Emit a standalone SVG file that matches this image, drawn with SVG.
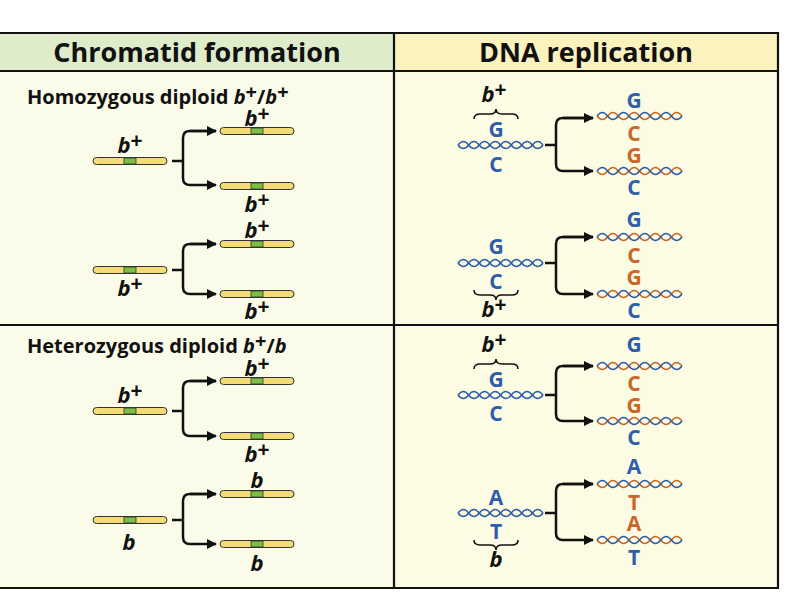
<svg xmlns="http://www.w3.org/2000/svg" xmlns:xlink="http://www.w3.org/1999/xlink" width="806" height="596" viewBox="0 0 806 596">
<style>
.hd{font-family:"Open Sans","Liberation Sans",sans-serif;font-weight:bold;font-size:27px;fill:#111}
.rt{font-family:"Open Sans","Liberation Sans",sans-serif;font-weight:bold;font-size:20px;fill:#111}
.b{font-family:"Open Sans","Liberation Sans",sans-serif;font-weight:bold;font-style:italic;font-size:22px;fill:#111;text-anchor:middle}
.sup{font-style:normal;font-size:21px}
.bl{font-family:"Open Sans","Liberation Sans",sans-serif;font-weight:bold;font-size:21px;fill:#2f5ea8;text-anchor:middle}
.or{font-family:"Open Sans","Liberation Sans",sans-serif;font-weight:bold;font-size:21px;fill:#c8672b;text-anchor:middle}
.con{fill:none;stroke:#111;stroke-width:2.5}
.br{fill:none;stroke:#111;stroke-width:1.6}
.s{fill:none;stroke-width:1.5}
</style>
<defs>
<marker id="ah" viewBox="0 0 10 10" refX="9" refY="5" markerWidth="4" markerHeight="4" orient="auto" markerUnits="strokeWidth"><path d="M0 0L10 5L0 10z" fill="#111"/></marker>
<path id="w1" d="M0 0q5.3 -7 10.625 0t10.625 0t10.625 0t10.625 0t10.625 0t10.625 0t10.625 0t10.625 0"/>
<path id="w2" d="M0 0q5.3 7 10.625 0t10.625 0t10.625 0t10.625 0t10.625 0t10.625 0t10.625 0t10.625 0"/>
<g id="hb"><use xlink:href="#w1" class="s" stroke="#2f5ea8"/><use xlink:href="#w2" class="s" stroke="#2f5ea8"/></g>
<g id="ho"><use xlink:href="#w2" class="s" stroke="#c8672b"/><use xlink:href="#w1" class="s" stroke="#2f5ea8"/></g>
<g id="chr"><rect x="0" y="-3.5" width="74" height="7" rx="3.5" fill="#f3dc76" stroke="#333" stroke-width="1"/><rect x="31" y="-3" width="12" height="6" fill="#7cc043" stroke="#333" stroke-width="0.8"/></g>
<path id="braceU" d="M-22 5q0 -5 6 -5h10q6 0 6 -5q0 5 6 5h10q6 0 6 5"/>
<path id="braceD" d="M-22 -5q0 5 6 5h10q6 0 6 5q0 -5 6 -5h10q6 0 6 -5"/>
</defs>
<g id="table">
<rect x="0" y="33" width="394" height="38" fill="#deecc9"/>
<rect x="394" y="33" width="384" height="38" fill="#fbf2bd"/>
<rect x="0" y="71" width="394" height="517" fill="#fbfbe9"/>
<rect x="394" y="71" width="384" height="517" fill="#fcfbe4"/>
<path d="M0 33H778V588H0M0 71H778M0 325H778M394 33V588" fill="none" stroke="#111" stroke-width="2.2"/>
<text class="hd" x="197" y="62" text-anchor="middle">Chromatid formation</text>
<text class="hd" x="586" y="62" text-anchor="middle">DNA replication</text>
<text class="rt" x="27" y="104">Homozygous diploid <tspan font-style="italic">b</tspan><tspan dy="-5">+</tspan><tspan dy="5">/</tspan><tspan font-style="italic">b</tspan><tspan dy="-5">+</tspan></text>
<text class="rt" x="27" y="353">Heterozygous diploid <tspan font-style="italic">b</tspan><tspan dy="-5">+</tspan><tspan dy="5">/</tspan><tspan font-style="italic">b</tspan></text>
</g>
<g id="connectors">
<path class="con" d="M172 161H183M216 131H190Q183 131 183 138V178Q183 185 190 185H216" marker-end="url(#ah)"/>
<path class="con" d="M190 131H216" marker-end="url(#ah)"/>
<path class="con" d="M172 270H183M216 244H190Q183 244 183 251V287Q183 294 190 294H216" marker-end="url(#ah)"/>
<path class="con" d="M190 244H216" marker-end="url(#ah)"/>
<path class="con" d="M172 411H183M216 381H190Q183 381 183 388V429Q183 436 190 436H216" marker-end="url(#ah)"/>
<path class="con" d="M190 381H216" marker-end="url(#ah)"/>
<path class="con" d="M172 520H183M216 494H190Q183 494 183 501V537Q183 544 190 544H216" marker-end="url(#ah)"/>
<path class="con" d="M190 494H216" marker-end="url(#ah)"/>
<path class="con" d="M545 145H556M593 118H563Q556 118 556 125V164Q556 171 563 171H593" marker-end="url(#ah)"/>
<path class="con" d="M563 118H593" marker-end="url(#ah)"/>
<path class="con" d="M545 263H556M593 237H563Q556 237 556 244V287Q556 294 563 294H593" marker-end="url(#ah)"/>
<path class="con" d="M563 237H593" marker-end="url(#ah)"/>
<path class="con" d="M545 395H556M593 366H563Q556 366 556 373V414Q556 421 563 421H593" marker-end="url(#ah)"/>
<path class="con" d="M563 366H593" marker-end="url(#ah)"/>
<path class="con" d="M545 513H556M593 484H563Q556 484 556 491V533Q556 540 563 540H593" marker-end="url(#ah)"/>
<path class="con" d="M563 484H593" marker-end="url(#ah)"/>
</g>
<g id="chromatids-homo">
<use xlink:href="#chr" x="93" y="161"/><text class="b" x="130" y="153">b<tspan class="sup" dy="-5">+</tspan></text>
<use xlink:href="#chr" x="220" y="131"/><text class="b" x="257" y="126">b<tspan class="sup" dy="-5">+</tspan></text>
<use xlink:href="#chr" x="220" y="186"/><text class="b" x="257" y="212">b<tspan class="sup" dy="-5">+</tspan></text>
<use xlink:href="#chr" x="93" y="270"/><text class="b" x="130" y="296">b<tspan class="sup" dy="-5">+</tspan></text>
<use xlink:href="#chr" x="220" y="244"/><text class="b" x="257" y="238">b<tspan class="sup" dy="-5">+</tspan></text>
<use xlink:href="#chr" x="220" y="294"/><text class="b" x="257" y="319">b<tspan class="sup" dy="-5">+</tspan></text>
</g>
<g id="chromatids-hetero">
<use xlink:href="#chr" x="93" y="411"/><text class="b" x="130" y="403">b<tspan class="sup" dy="-5">+</tspan></text>
<use xlink:href="#chr" x="220" y="381"/><text class="b" x="257" y="376">b<tspan class="sup" dy="-5">+</tspan></text>
<use xlink:href="#chr" x="220" y="436"/><text class="b" x="257" y="462">b<tspan class="sup" dy="-5">+</tspan></text>
<use xlink:href="#chr" x="93" y="520"/><text class="b" x="129" y="550">b</text>
<use xlink:href="#chr" x="220" y="494"/><text class="b" x="257" y="488">b</text>
<use xlink:href="#chr" x="220" y="544"/><text class="b" x="257" y="571">b</text>
</g>
<g id="dna-homo-1">
<text class="b" x="494" y="102">b<tspan class="sup" dy="-5">+</tspan></text>
<use xlink:href="#braceU" x="496" y="114" class="br"/>
<text class="bl" x="496" y="137">G</text>
<use xlink:href="#hb" x="458" y="145"/>
<text class="bl" x="496" y="172">C</text>
<text class="bl" x="634" y="108">G</text>
<use xlink:href="#ho" x="597" y="116"/>
<text class="or" x="634" y="141">C</text>
<text class="or" x="634" y="163">G</text>
<use xlink:href="#ho" x="597" y="171"/>
<text class="bl" x="634" y="195">C</text>
</g>
<g id="dna-homo-2">
<text class="bl" x="496" y="254">G</text>
<use xlink:href="#hb" x="458" y="263"/>
<text class="bl" x="496" y="289">C</text>
<use xlink:href="#braceD" x="496" y="295" class="br"/>
<text class="b" x="494" y="317">b<tspan class="sup" dy="-5">+</tspan></text>
<text class="bl" x="634" y="227">G</text>
<use xlink:href="#ho" x="597" y="237"/>
<text class="or" x="634" y="263">C</text>
<text class="or" x="634" y="285">G</text>
<use xlink:href="#ho" x="597" y="294"/>
<text class="bl" x="634" y="318">C</text>
</g>
<g id="dna-hetero-1">
<text class="b" x="494" y="352">b<tspan class="sup" dy="-5">+</tspan></text>
<use xlink:href="#braceU" x="496" y="364" class="br"/>
<text class="bl" x="496" y="387">G</text>
<use xlink:href="#hb" x="458" y="395"/>
<text class="bl" x="496" y="421">C</text>
<text class="bl" x="634" y="352">G</text>
<use xlink:href="#ho" x="597" y="366"/>
<text class="or" x="634" y="391">C</text>
<text class="or" x="634" y="413">G</text>
<use xlink:href="#ho" x="597" y="421"/>
<text class="bl" x="634" y="445">C</text>
</g>
<g id="dna-hetero-2">
<text class="bl" x="496" y="505">A</text>
<use xlink:href="#hb" x="458" y="513"/>
<text class="bl" x="496" y="539">T</text>
<use xlink:href="#braceD" x="496" y="545" class="br"/>
<text class="b" x="496" y="567">b</text>
<text class="bl" x="634" y="474">A</text>
<use xlink:href="#ho" x="597" y="484"/>
<text class="or" x="634" y="510">T</text>
<text class="or" x="634" y="531">A</text>
<use xlink:href="#ho" x="597" y="540"/>
<text class="bl" x="634" y="565">T</text>
</g>
</svg>
